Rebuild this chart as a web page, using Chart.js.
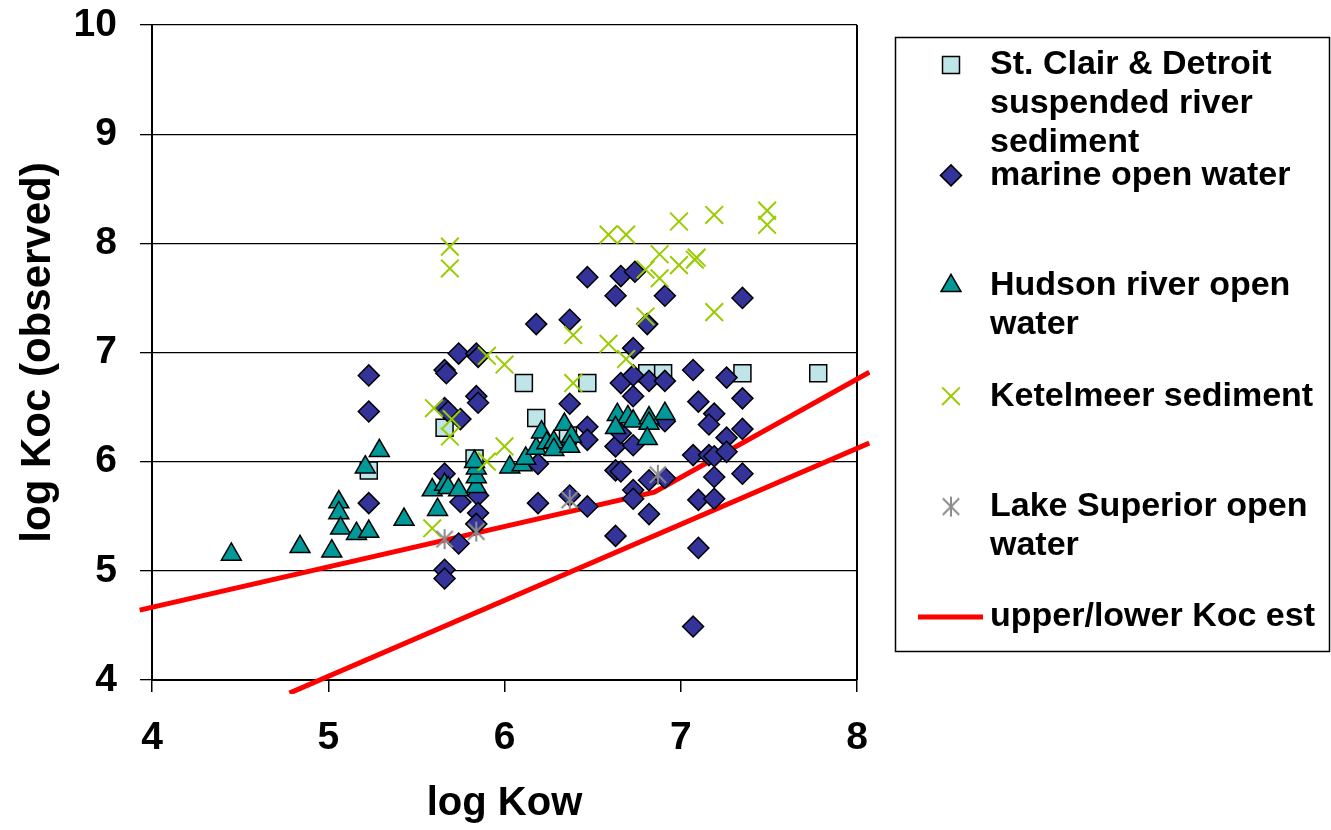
<!DOCTYPE html>
<html>
<head>
<meta charset="utf-8">
<script src="https://cdn.jsdelivr.net/npm/chart.js@4.4.1/dist/chart.umd.min.js"></script>
<style>
  html, body { margin: 0; padding: 0; background: #fff; }
  #wrap { width: 1331px; height: 830px; position: relative; }
</style>
</head>
<body>
<div id="wrap"><canvas id="c" width="1331" height="830"></canvas></div>
<script>
// Axis ticks
const xTicks = [4, 5, 6, 7, 8];
const yTicks = [4, 5, 6, 7, 8, 9, 10];

// St. Clair & Detroit suspended river sediment
const stClairX = [5.23, 5.66, 5.83, 6.11, 6.18, 6.36, 6.47, 6.81, 6.90, 7.35, 7.78];
const stClairY = [5.92, 6.31, 6.03, 6.72, 6.40, 6.24, 6.72, 6.81, 6.81, 6.81, 6.81];

// marine open water
const marineX = [5.23, 5.23, 5.23, 5.74, 5.84, 5.85, 5.66, 5.67, 5.84, 5.85, 5.66, 5.68, 5.75,
  5.66, 5.75, 5.85, 5.85, 5.84, 5.74, 5.66, 5.66, 6.19, 6.37, 6.47, 6.63,
  6.37, 6.47, 6.47, 6.63, 6.66, 6.63, 6.66, 6.19,
  6.18, 6.37, 6.47, 6.66, 6.74, 6.63, 6.91, 7.35, 6.81,
  6.73, 6.73, 6.82, 6.91, 7.07, 7.26, 6.73, 7.10, 7.35, 7.19, 7.16, 7.35, 7.26, 6.91, 6.73,
  7.07, 7.16, 7.19, 7.26, 6.82, 6.91, 6.73, 6.73, 7.19, 7.35, 7.10, 7.19, 6.82, 7.10, 7.07, 6.66];
const marineY = [6.79, 6.46, 5.62, 6.99, 6.99, 6.96, 6.84, 6.81, 6.60, 6.54, 6.49, 6.46, 6.39,
  5.89, 5.63, 5.69, 5.53, 5.43, 5.25, 5.01, 4.93, 5.62, 5.69, 5.59, 5.32,
  6.53, 6.32, 6.20, 6.14, 6.72, 5.92, 5.91, 5.98,
  7.26, 7.30, 7.69, 7.70, 7.74, 7.52, 7.52, 7.50, 7.26,
  7.04, 6.79, 6.74, 6.74, 6.84, 6.77, 6.60, 6.55, 6.58, 6.44, 6.34, 6.30, 6.22, 6.37, 6.15,
  6.06, 6.06, 6.05, 6.09, 5.83, 5.85, 5.74, 5.66, 5.86, 5.89, 5.65, 5.66, 5.52, 5.21, 4.49, 6.26];

// Hudson river open water
const hudsonX = [4.45, 4.84, 5.02, 5.06, 5.06, 5.07, 5.16, 5.23, 5.21, 5.29, 5.43,
  5.62, 5.59, 5.66, 5.68, 5.74, 5.84, 5.84, 5.84, 5.83, 6.03, 6.10, 6.12, 6.18, 6.21,
  6.24, 6.28, 6.28, 6.34, 6.38, 6.37,
  6.64, 6.70, 6.73, 6.82, 6.82, 6.91, 6.63, 6.81];
const hudsonY = [5.15, 5.22, 5.18, 5.63, 5.53, 5.39, 5.34, 5.36, 5.95, 6.10, 5.47,
  5.56, 5.74, 5.79, 5.76, 5.74, 5.77, 5.86, 5.94, 6.00, 5.95, 5.97, 6.03, 6.12, 6.27,
  6.17, 6.18, 6.11, 6.34, 6.23, 6.14,
  6.43, 6.41, 6.37, 6.40, 6.35, 6.44, 6.31, 6.21];

// Ketelmeer sediment
const ketelX = [5.69, 5.69, 6.59, 6.69, 6.99, 7.19, 7.49, 7.49, 6.88, 6.80, 6.99, 7.09, 7.08, 6.88,
  7.19, 6.80, 6.39, 6.59, 6.69, 5.90, 6.00, 6.39, 5.60, 5.70, 5.69, 6.00, 5.90, 5.59];
const ketelY = [7.97, 7.77, 8.08, 8.08, 8.20, 8.26, 8.30, 8.17, 7.90, 7.76, 7.80, 7.87, 7.85, 7.68,
  7.37, 7.33, 7.16, 7.08, 6.94, 6.97, 6.89, 6.72, 6.49, 6.39, 6.23, 6.14, 6.00, 5.39];

// Lake Superior open water
const superiorX = [5.66, 5.84, 6.37, 6.87];
const superiorY = [5.29, 5.36, 5.65, 5.88];

// upper / lower Koc estimate lines
const upperX = [3.93, 6.85, 8.07];
const upperY = [4.64, 5.72, 6.82];
const lowerX = [4.78, 8.07];
const lowerY = [3.88, 6.17];

// Legend text, one entry per row of the legend
const legendLabels = [
  ['St. Clair & Detroit', 'suspended river', 'sediment'],
  ['marine open water'],
  ['Hudson river open', 'water'],
  ['Ketelmeer sediment'],
  ['Lake Superior open', 'water'],
  ['upper/lower Koc est']
];

function pts(xs, ys) { return xs.map((x, i) => ({ x: x, y: ys[i] })); }

// asterisk marker: vertical bar plus an X
function asterisk(color, half, lw) {
  const s = Math.ceil(half * 2 + lw * 2);
  const c = document.createElement('canvas');
  c.width = s; c.height = s;
  const g = c.getContext('2d');
  g.strokeStyle = color; g.lineWidth = lw; g.lineCap = 'butt';
  const m = s / 2, d = half * 0.82;
  g.beginPath();
  g.moveTo(m, m - half); g.lineTo(m, m + half);
  g.moveTo(m - d, m - d); g.lineTo(m + d, m + d);
  g.moveTo(m - d, m + d); g.lineTo(m + d, m - d);
  g.stroke();
  return c;
}

const FONT = "'Liberation Sans', Arial, Helvetica, sans-serif";
const lineClip = { left: 14, top: 0, right: 13, bottom: 14 };

const datasets = [
  { label: 'St. Clair & Detroit suspended river sediment', data: pts(stClairX, stClairY),
    pointStyle: 'rect', pointRadius: 12, backgroundColor: '#BFE5E8', borderColor: '#000', borderWidth: 1.5, order: 5 },
  { label: 'marine open water', data: pts(marineX, marineY),
    pointStyle: 'rectRot', pointRadius: 10.5, backgroundColor: '#333399', borderColor: '#000', borderWidth: 1.5, order: 4 },
  { label: 'Hudson river open water', data: pts(hudsonX, hudsonY),
    pointStyle: 'triangle', pointRadius: 11.5, backgroundColor: '#009999', borderColor: '#000', borderWidth: 1.5, order: 3 },
  { label: 'Ketelmeer sediment', data: pts(ketelX, ketelY),
    pointStyle: 'crossRot', pointRadius: 12.5, backgroundColor: '#99CC00', borderColor: '#99CC00', borderWidth: 2, order: 2 },
  { label: 'Lake Superior open water', data: pts(superiorX, superiorY),
    pointStyle: asterisk('#8C8C8C', 10, 2), pointRadius: 10, backgroundColor: '#8C8C8C', borderColor: '#8C8C8C', borderWidth: 2, order: 1 },
  { label: 'upper/lower Koc est', data: pts(upperX, upperY), showLine: true, pointRadius: 0,
    borderColor: '#FF0000', backgroundColor: '#FF0000', borderWidth: 5, tension: 0, fill: false, clip: lineClip, order: 10 },
  { label: 'lower Koc est', data: pts(lowerX, lowerY), showLine: true, pointRadius: 0,
    borderColor: '#FF0000', backgroundColor: '#FF0000', borderWidth: 5, tension: 0, fill: false, clip: lineClip, order: 11 }
];

// right-hand frame line of the plot area
const frame = {
  id: 'frame',
  beforeDatasetsDraw(chart) {
    const { ctx, chartArea: a } = chart;
    ctx.save();
    ctx.strokeStyle = '#000';
    ctx.lineWidth = 2;
    ctx.beginPath();
    ctx.moveTo(a.right, a.top);
    ctx.lineTo(a.right, a.bottom);
    ctx.stroke();
    ctx.restore();
  }
};

// boxed legend to the right of the plot
const boxLegend = {
  id: 'boxLegend',
  afterDraw(chart) {
    const ctx = chart.ctx;
    const ds = chart.data.datasets;
    ctx.save();
    ctx.strokeStyle = '#000';
    ctx.lineWidth = 1.5;
    ctx.strokeRect(895.5, 37.5, 434, 614);
    const markerX = 951, textX = 990, firstY = 65, rowStep = 110.4, lineStep = 39;
    legendLabels.forEach((lines, i) => {
      const d = ds[i];
      const y = firstY + i * rowStep;
      if (d.showLine) {
        ctx.strokeStyle = d.borderColor;
        ctx.lineWidth = d.borderWidth;
        ctx.beginPath();
        ctx.moveTo(918, y); ctx.lineTo(983, y);
        ctx.stroke();
      } else {
        ctx.fillStyle = d.backgroundColor;
        ctx.strokeStyle = d.borderColor;
        ctx.lineWidth = d.borderWidth;
        Chart.helpers.drawPoint(ctx, { pointStyle: d.pointStyle, radius: d.pointRadius, rotation: 0, borderWidth: d.borderWidth }, markerX, y);
      }
      ctx.fillStyle = '#000';
      ctx.font = 'bold 34px ' + FONT;
      ctx.textBaseline = 'middle';
      ctx.textAlign = 'left';
      lines.forEach((t, j) => ctx.fillText(t, textX, y + j * lineStep));
    });
    ctx.restore();
  }
};

new Chart(document.getElementById('c'), {
  type: 'scatter',
  data: { datasets: datasets },
  plugins: [frame, boxLegend],
  options: {
    responsive: false,
    animation: false,
    devicePixelRatio: 1,
    events: [],
    layout: { padding: { top: 25, right: 474, left: 0, bottom: 0 } },
    plugins: { legend: { display: false }, tooltip: { enabled: false } },
    scales: {
      x: {
        type: 'linear', min: 4, max: 8,
        afterBuildTicks(s) { s.ticks = xTicks.map(v => ({ value: v })); },
        afterFit(s) { s.height = 150; s.paddingLeft = 0; s.paddingRight = 0; },
        grid: { drawOnChartArea: false, drawTicks: true, tickLength: 12, color: '#000', lineWidth: 1.5 },
        border: { display: true, color: '#000', width: 2 },
        ticks: { color: '#000', padding: 23, maxRotation: 0, font: { family: FONT, size: 39, weight: 'bold' } },
        title: { display: true, text: 'log Kow', color: '#000', padding: { top: 0, bottom: 2 },
          font: { family: FONT, size: 40, weight: 'bold', lineHeight: 1.2 } }
      },
      y: {
        type: 'linear', min: 4, max: 10,
        afterBuildTicks(s) { s.ticks = yTicks.map(v => ({ value: v })); },
        afterFit(s) { s.width = 152; s.paddingTop = 0; s.paddingBottom = 0; },
        grid: { drawOnChartArea: true, drawTicks: true, tickLength: 12, color: '#000', lineWidth: 1.3 },
        border: { display: true, color: '#000', width: 2 },
        ticks: { color: '#000', padding: 23, font: { family: FONT, size: 39, weight: 'bold' } },
        title: { display: true, text: 'log Koc (observed)', color: '#000', padding: { top: 13, bottom: 0 },
          font: { family: FONT, size: 42, weight: 'bold', lineHeight: 1.2 } }
      }
    }
  }
});
</script>
</body>
</html>
